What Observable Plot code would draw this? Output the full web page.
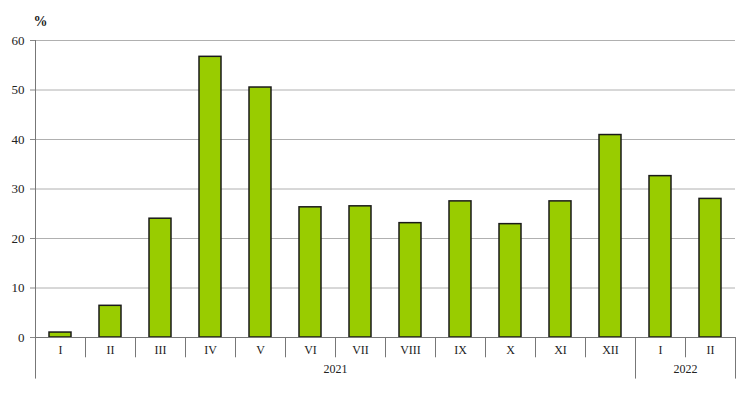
<!DOCTYPE html>
<html><head><meta charset="utf-8">
<script src="https://cdn.jsdelivr.net/npm/d3@7"></script>
<script src="https://cdn.jsdelivr.net/npm/@observablehq/plot@0.6"></script>
<style>body{margin:0;background:#fff}</style>
</head><body><div id="chart"></div>
<script>
const months = ["I","II","III","IV","V","VI","VII","VIII","IX","X","XI","XII","I","II"];
const years = ["2021","2021","2021","2021","2021","2021","2021","2021","2021","2021","2021","2021","2022","2022"];
const values = [1.0, 6.4, 24.0, 56.7, 50.5, 26.3, 26.5, 23.1, 27.5, 22.9, 27.5, 40.9, 32.6, 28.0];
const yTicks = [0,10,20,30,40,50,60];
const yearLabels = ["2021","2022"];

const data = months.map((m,i)=>({i, month:m, year:years[i], value:values[i]}));
const yearGroups = yearLabels.map(y=>{
  const idx = data.filter(d=>d.year===y).map(d=>d.i);
  return {year:y, start:d3.min(idx), end:d3.max(idx)+1};
});
const yearBounds = [...new Set(yearGroups.flatMap(g=>[g.start,g.end]))];
const monthBounds = d3.range(1, months.length).filter(b=>!yearBounds.includes(b));

const font = "'Liberation Serif', 'DejaVu Serif', serif";
const chart = Plot.plot({
  width: 740, height: 393,
  marginLeft: 35, marginRight: 5, marginTop: 40, marginBottom: 56,
  style: {fontFamily: font, fontSize: "12px", color: "#222", background: "#fff"},
  x: {type: "linear", domain: [0, months.length], axis: null},
  y: {domain: [0, 60], ticks: yTicks, axis: null},
  marks: [
    Plot.ruleY(yTicks.filter(t=>t>0), {x1: 0, x2: months.length, stroke: "#b0b0b0", strokeWidth: 1}),
    Plot.axisY({ticks: yTicks, tickSize: 5, tickPadding: 6, fontSize: 13, stroke: "#888", label: null}),
    Plot.rectY(data, {x1: d=>d.i, x2: d=>d.i+1, y: "value", insetLeft: 14, insetRight: 14,
      fill: "#99cc00", stroke: "#1a1a1a", strokeWidth: 1.5}),
    Plot.ruleY([0], {x1: 0, x2: months.length, stroke: "#777", strokeWidth: 1}),
    Plot.ruleX([0], {y1: 0, y2: 60, stroke: "#777", strokeWidth: 1}),
    Plot.ruleX(monthBounds, {y1: 0, y2: -4.1, stroke: "#777", strokeWidth: 1}),
    Plot.ruleX(yearBounds, {y1: 0, y2: -8.4, stroke: "#777", strokeWidth: 1}),
    Plot.text(data, {x: d=>d.i+0.5, frameAnchor: "bottom", dy: 16, text: "month", fontSize: 12, fill: "#222"}),
    Plot.text(yearGroups, {x: d=>(d.start+d.end)/2, frameAnchor: "bottom", dy: 35, text: "year", fontSize: 12, fill: "#222"}),
    Plot.text(["%"], {frameAnchor: "top-left", dx: -2, dy: -24, text: d=>d, fontSize: 14, fontWeight: "bold", fill: "#222"})
  ]
});
document.getElementById("chart").appendChild(chart);
</script>
</body></html>
